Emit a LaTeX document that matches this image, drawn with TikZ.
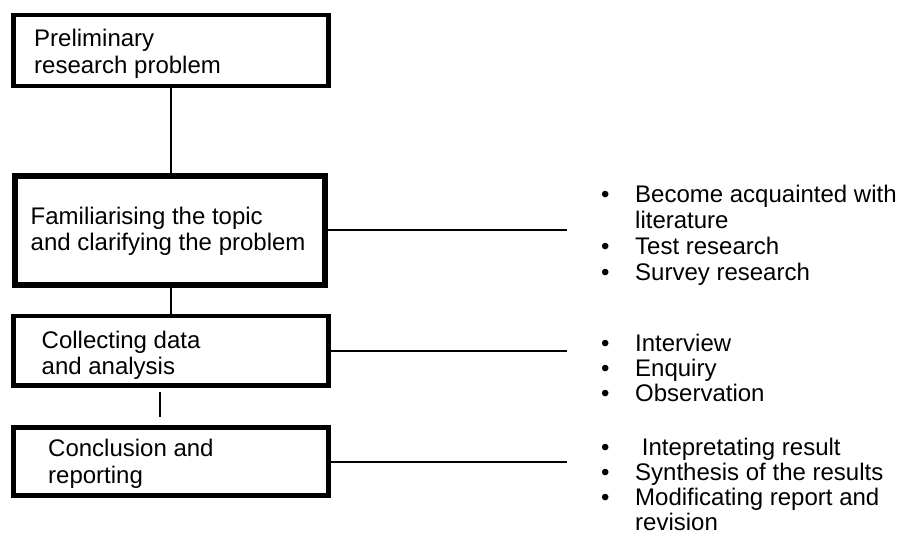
\documentclass[tikz,border=0pt]{standalone}
\usepackage{fontspec}
\setmainfont{Liberation Sans}
\usetikzlibrary{calc}
% bullet followed by a fixed indent
\newcommand\bul{\makebox[34pt][l]{•}}
\newcommand\indentline{\hspace*{34pt}}
\begin{document}
\begin{tikzpicture}[x=1pt,y=-1pt,
  stage/.style={draw, rectangle, line width=4.5pt, minimum width=315pt, inner sep=0pt},
  link/.style={line width=2pt},
  txt/.style={anchor=base west, inner sep=0pt, text=black,
              font=\fontsize{24}{26.6}\selectfont}
]
\useasboundingbox (0,0) rectangle (900,539);

% stage boxes
\node[stage, minimum height=71pt] (b1) at (171,50.5) {};
\node[stage, line width=6pt, minimum width=310pt, minimum height=109.5pt] (b2) at (170,230.25) {};
\node[stage, minimum height=69.5pt] (b3) at (171,350.75) {};
\node[stage, minimum height=68pt] (b4) at (171,461.5) {};

% stage titles
\node[txt] (t1) at (34,46.7) {\begin{tabular}[t]{@{}l@{}}Preliminary\\research problem\end{tabular}};
\node[txt] (t2) at (30.5,224) {\begin{tabular}[t]{@{}l@{}}Familiarising the topic\\and clarifying the problem\end{tabular}};
\node[txt] (t3) at (41.5,348.3) {\begin{tabular}[t]{@{}l@{}}Collecting data\\and analysis\end{tabular}};
\node[txt] (t4) at (48,456.7) {\begin{tabular}[t]{@{}l@{}}Conclusion and\\reporting\end{tabular}};

% activity lists
\node[txt, font=\fontsize{24}{26.3}\selectfont] (l2) at (601,202) {\begin{tabular}[t]{@{}l@{}}
  \bul Become acquainted with\\ \indentline literature\\ \bul Test research\\ \bul Survey research\end{tabular}};
\node[txt, font=\fontsize{24}{25}\selectfont] (l3) at (601,351.7) {\begin{tabular}[t]{@{}l@{}}
  \bul Interview\\ \bul Enquiry\\ \bul Observation\end{tabular}};
\node[txt, font=\fontsize{24}{25}\selectfont] (l4) at (601,455) {\begin{tabular}[t]{@{}l@{}}
  \bul\ Intepretating result\\ \bul Synthesis of the results\\ \bul Modificating report and\\ \indentline revision\end{tabular}};

% connectors
\coordinate (rim) at (567,0);
\draw[link] (b1.south) -- (b1.south |- b2.north);
\draw[link] (b3.north) -- (b3.north |- b2.south);
\draw[link, shorten <=4pt, shorten >=8pt] ([xshift=-11pt]b3.south) -- ([xshift=-11pt]b4.north);
\draw[link] (b2.east) -- (b2.east -| rim);
\draw[link] (b3.east) -- (b3.east -| rim);
\draw[link] (b4.east) -- (b4.east -| rim);
\end{tikzpicture}
\end{document}
